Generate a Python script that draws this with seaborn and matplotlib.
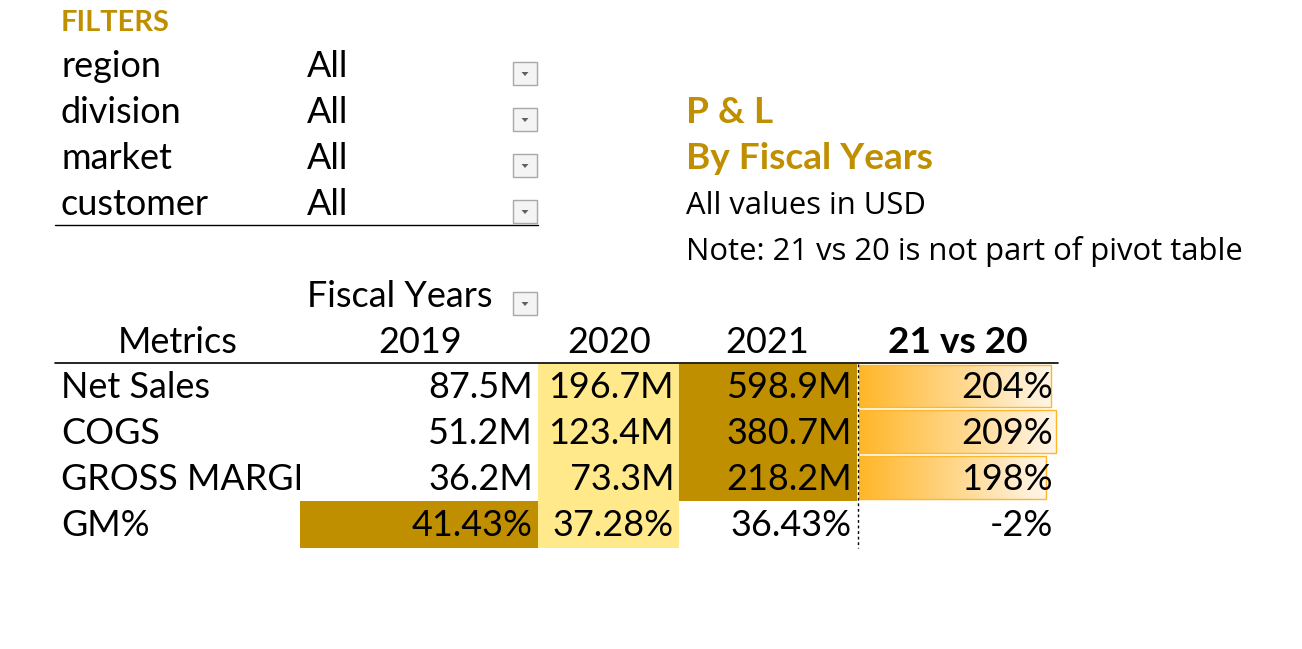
"""P & L pivot table by fiscal years, redrawn from an Excel screenshot."""

import matplotlib.pyplot as plt
import numpy as np
import seaborn as sns
from matplotlib.colors import LinearSegmentedColormap, ListedColormap
from matplotlib.patches import Rectangle, Polygon

# ---- data -----------------------------------------------------------------
filter_names = ["region", "division", "market", "customer"]
filter_values = ["All", "All", "All", "All"]

years = ["2019", "2020", "2021"]
metrics = ["Net Sales", "COGS", "GROSS MARGIN", "GM%"]
net_sales = [87.5, 196.7, 598.9]       # $M
cogs = [51.2, 123.4, 380.7]            # $M
gross_margin = [36.2, 73.3, 218.2]     # $M
gm_pct = [41.43, 37.28, 36.43]         # %
vs_label = "21 vs 20"
vs_pct = [204, 209, 198, -2]           # %

# ---- style ----------------------------------------------------------------
sns.set_theme(style="white")
plt.rcParams["font.family"] = ["Lato", "DejaVu Sans"]
plt.rcParams["text.color"] = "black"

GOLD = "#BF8F00"
LIGHT = "#FFE98A"
BAR = "#FFB628"
rank_cmap = ListedColormap(["white", LIGHT, GOLD])
bar_cmap = LinearSegmentedColormap.from_list("databar", [BAR, "#FFF6E8"])


def pt(px):
    return px * 72 / 100


fig = plt.figure(figsize=(13.02, 6.49), dpi=100)
ax = fig.add_axes([0, 0, 1, 1])
ax.set_xlim(0, 1302)
ax.set_ylim(649, 0)
ax.axis("off")

BODY = pt(36)
NOTE = dict(fontsize=pt(31), va="baseline", ha="left",
            family=["Open Sans", "DejaVu Sans"])


def dropdown(x, y):
    ax.add_patch(Rectangle((x, y), 24, 23, facecolor="#F4F4F4",
                           edgecolor="#A8A8A8", lw=1, zorder=5))
    ax.add_patch(Polygon([(x + 8.5, y + 10), (x + 15.5, y + 10), (x + 12, y + 14)],
                         closed=True, facecolor="#606060", edgecolor="none", zorder=6))


# ---- filters block ---------------------------------------------------------
ax.text(61, 31, "FILTERS", color=GOLD, fontsize=pt(29), fontweight="bold",
        va="baseline", ha="left")
for i, (name, val) in enumerate(zip(filter_names, filter_values)):
    base = 77 + i * 46
    ax.text(61, base, name, fontsize=BODY, va="baseline", ha="left")
    ax.text(307, base, val, fontsize=BODY, va="baseline", ha="left")
    dropdown(513, base - 15)
ax.plot([55, 538], [225, 225], color="black", lw=1)

# ---- titles ------------------------------------------------------------------
ax.text(686, 123, "P & L", color=GOLD, fontsize=pt(37), fontweight="bold",
        va="baseline", ha="left")
ax.text(686, 169, "By Fiscal Years", color=GOLD, fontsize=pt(37), fontweight="bold",
        va="baseline", ha="left")
ax.text(686, 214, "All values in USD", **NOTE)
ax.text(686, 260, "Note: 21 vs 20 is not part of pivot table", **NOTE)

# ---- pivot table ---------------------------------------------------------------
col_edges = [300, 538, 679, 857]
row_edges = [364, 409, 455, 501, 548]
header_x = [420, 609, 767]
vs_left, vs_right = 857, 1058

ax.text(307, 307, "Fiscal Years", fontsize=BODY, va="baseline", ha="left")
dropdown(513, 292)
ax.text(178, 353, "Metrics", fontsize=BODY, va="baseline", ha="center")
for xc, yr in zip(header_x, years):
    ax.text(xc, 353, yr, fontsize=BODY, va="baseline", ha="center")
ax.text((vs_left + vs_right) / 2, 353, vs_label, fontsize=pt(37), fontweight="bold",
        va="baseline", ha="center")
ax.plot([55, vs_right], [363, 363], color="black", lw=1.2)

rows = [net_sales, cogs, gross_margin, gm_pct]
for i, (label, vals) in enumerate(zip(metrics, rows)):
    top, bot = row_edges[i], row_edges[i + 1]
    base = 398 + i * 46
    ax.text(61, base, label, fontsize=BODY, va="baseline", ha="left", zorder=1)
    ranks = np.argsort(np.argsort(vals))
    for j, v in enumerate(vals):
        ax.add_patch(Rectangle((col_edges[j], top), col_edges[j + 1] - col_edges[j],
                               bot - top, facecolor=rank_cmap(ranks[j]),
                               edgecolor="none", zorder=2))
        txt = f"{v:.2f}%" if label == "GM%" else f"{v:.1f}M"
        ax.text(col_edges[j + 1] - 5, base, txt, fontsize=BODY, va="baseline",
                ha="right", zorder=4)

    # data bar for 21 vs 20
    p = vs_pct[i]
    if p > 0:
        length = p / max(vs_pct) * 197
        x0, y0, h = vs_left + 2, top + 1, bot - top - 3
        rect = Rectangle((x0, y0), length, h, facecolor="none", edgecolor=BAR,
                         lw=1, zorder=3.5)
        ax.add_patch(rect)
        grad = np.linspace(0, 1, 256).reshape(1, -1)
        im = ax.imshow(grad, cmap=bar_cmap, aspect="auto", zorder=3,
                       extent=(x0, x0 + length, y0 + h, y0))
        im.set_clip_path(rect)
    ax.text(vs_right - 5, base, f"{p}%", fontsize=BODY, va="baseline", ha="right",
            zorder=4)

ax.plot([858, 858], [364, 548], color="black", lw=1, ls=(0, (2, 2)), zorder=5)
ax.set_xlim(0, 1302)
ax.set_ylim(649, 0)

fig.savefig("out.png", dpi=100)
